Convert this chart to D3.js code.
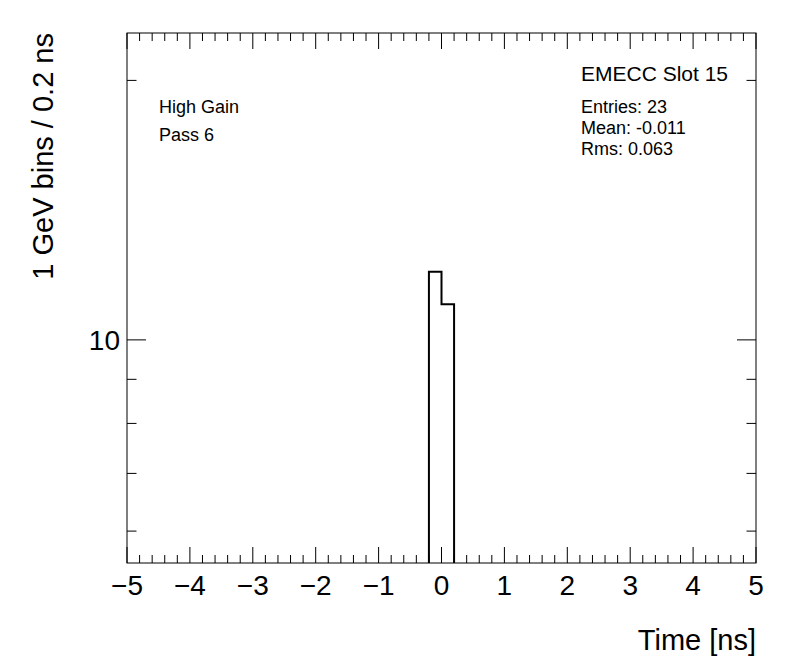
<!DOCTYPE html>
<html>
<head>
<meta charset="utf-8">
<script src="https://cdn.jsdelivr.net/npm/d3@7"></script>
<style>
  body { margin: 0; background: #fff; }
  text { font-family: "Liberation Sans", Arial, sans-serif; fill: #000; }
</style>
</head>
<body>
<svg width="796" height="672"></svg>
<script>
var binLow = [-0.2, 0.0]
var binWidth = 0.2
var counts = [12, 11]
var xTicks = [-5, -4, -3, -2, -1, 0, 1, 2, 3, 4, 5]
var yLabelTicks = [10]
var yMinorTicks = [6, 7, 8, 9, 20]
var infoLines = ["High Gain", "Pass 6"]
var statTitle = "EMECC Slot 15"
var statLines = ["Entries: 23", "Mean: -0.011", "Rms: 0.063"]

var margin = { top: 33, left: 127, right: 40, bottom: 109 }
var width = 796 - margin.left - margin.right,
    height = 672 - margin.top - margin.bottom

var x = d3.scaleLinear().domain([-5, 5]).range([0, width])
var y = d3.scaleLog().domain([5.51, 22.7]).range([height, 0])

var svg = d3.select("svg")
var g = svg.append("g").attr("transform", "translate(" + margin.left + "," + margin.top + ")")

// histogram outline
var p = d3.path()
p.moveTo(x(binLow[0]), height)
counts.forEach(function(c, i) {
    p.lineTo(x(binLow[i]), y(c))
    p.lineTo(x(binLow[i] + binWidth), y(c))
})
p.lineTo(x(binLow[binLow.length - 1] + binWidth), height)
g.append("path").attr("d", p.toString())
    .attr("fill", "none").attr("stroke", "#000").attr("stroke-width", 2)

// x ticks (bottom and top), 5 subdivisions per unit
var minorX = d3.range(-25, 26).map(function(i) { return i / 5 })
var majLen = 16, minLen = 8
minorX.forEach(function(v) {
    var isMajor = Math.abs(v - Math.round(v)) < 1e-6
    var len = isMajor ? majLen : minLen
    g.append("line").attr("x1", x(v)).attr("x2", x(v)).attr("y1", height).attr("y2", height - len)
        .attr("stroke", "#000")
    g.append("line").attr("x1", x(v)).attr("x2", x(v)).attr("y1", 0).attr("y2", len)
        .attr("stroke", "#000")
})
g.selectAll(".xlab").data(xTicks).enter().append("text")
    .attr("class", "xlab")
    .attr("x", function(d) { return x(d) })
    .attr("y", height + 32)
    .attr("text-anchor", "middle")
    .style("font-size", "28px")
    .text(function(d) { return d < 0 ? "\u2212" + (-d) : d })

// y ticks (left and right)
var yMajLen = 19, yMinLen = 9.5
yLabelTicks.concat(yMinorTicks).forEach(function(v) {
    var len = yLabelTicks.indexOf(v) >= 0 ? yMajLen : yMinLen
    g.append("line").attr("x1", 0).attr("x2", len).attr("y1", y(v)).attr("y2", y(v)).attr("stroke", "#000")
    g.append("line").attr("x1", width).attr("x2", width - len).attr("y1", y(v)).attr("y2", y(v)).attr("stroke", "#000")
})
g.selectAll(".ylab").data(yLabelTicks).enter().append("text")
    .attr("class", "ylab")
    .attr("x", -7)
    .attr("y", function(d) { return y(d) + 10 })
    .attr("text-anchor", "end")
    .style("font-size", "28px")
    .text(function(d) { return d })

// frame
g.append("rect").attr("width", width).attr("height", height)
    .attr("fill", "none").attr("stroke", "#000").attr("stroke-width", 1)

// axis titles
svg.append("text")
    .attr("x", margin.left + width).attr("y", 650)
    .attr("text-anchor", "end")
    .style("font-size", "29px")
    .text("Time [ns]")
svg.append("text")
    .attr("transform", "translate(53," + margin.top + ") rotate(-90)")
    .attr("text-anchor", "end")
    .style("font-size", "29px")
    .text("1 GeV bins / 0.2 ns")

// labels
svg.selectAll(".info").data(infoLines).enter().append("text")
    .attr("class", "info")
    .attr("x", 159)
    .attr("y", function(d, i) { return 113 + i * 28 })
    .style("font-size", "18px")
    .text(function(d) { return d })

svg.append("text").attr("x", 581).attr("y", 81)
    .style("font-size", "21px").text(statTitle)
svg.selectAll(".stat").data(statLines).enter().append("text")
    .attr("class", "stat")
    .attr("x", 581)
    .attr("y", function(d, i) { return 113 + i * 21 })
    .style("font-size", "18px")
    .text(function(d) { return d })
</script>
</body>
</html>
